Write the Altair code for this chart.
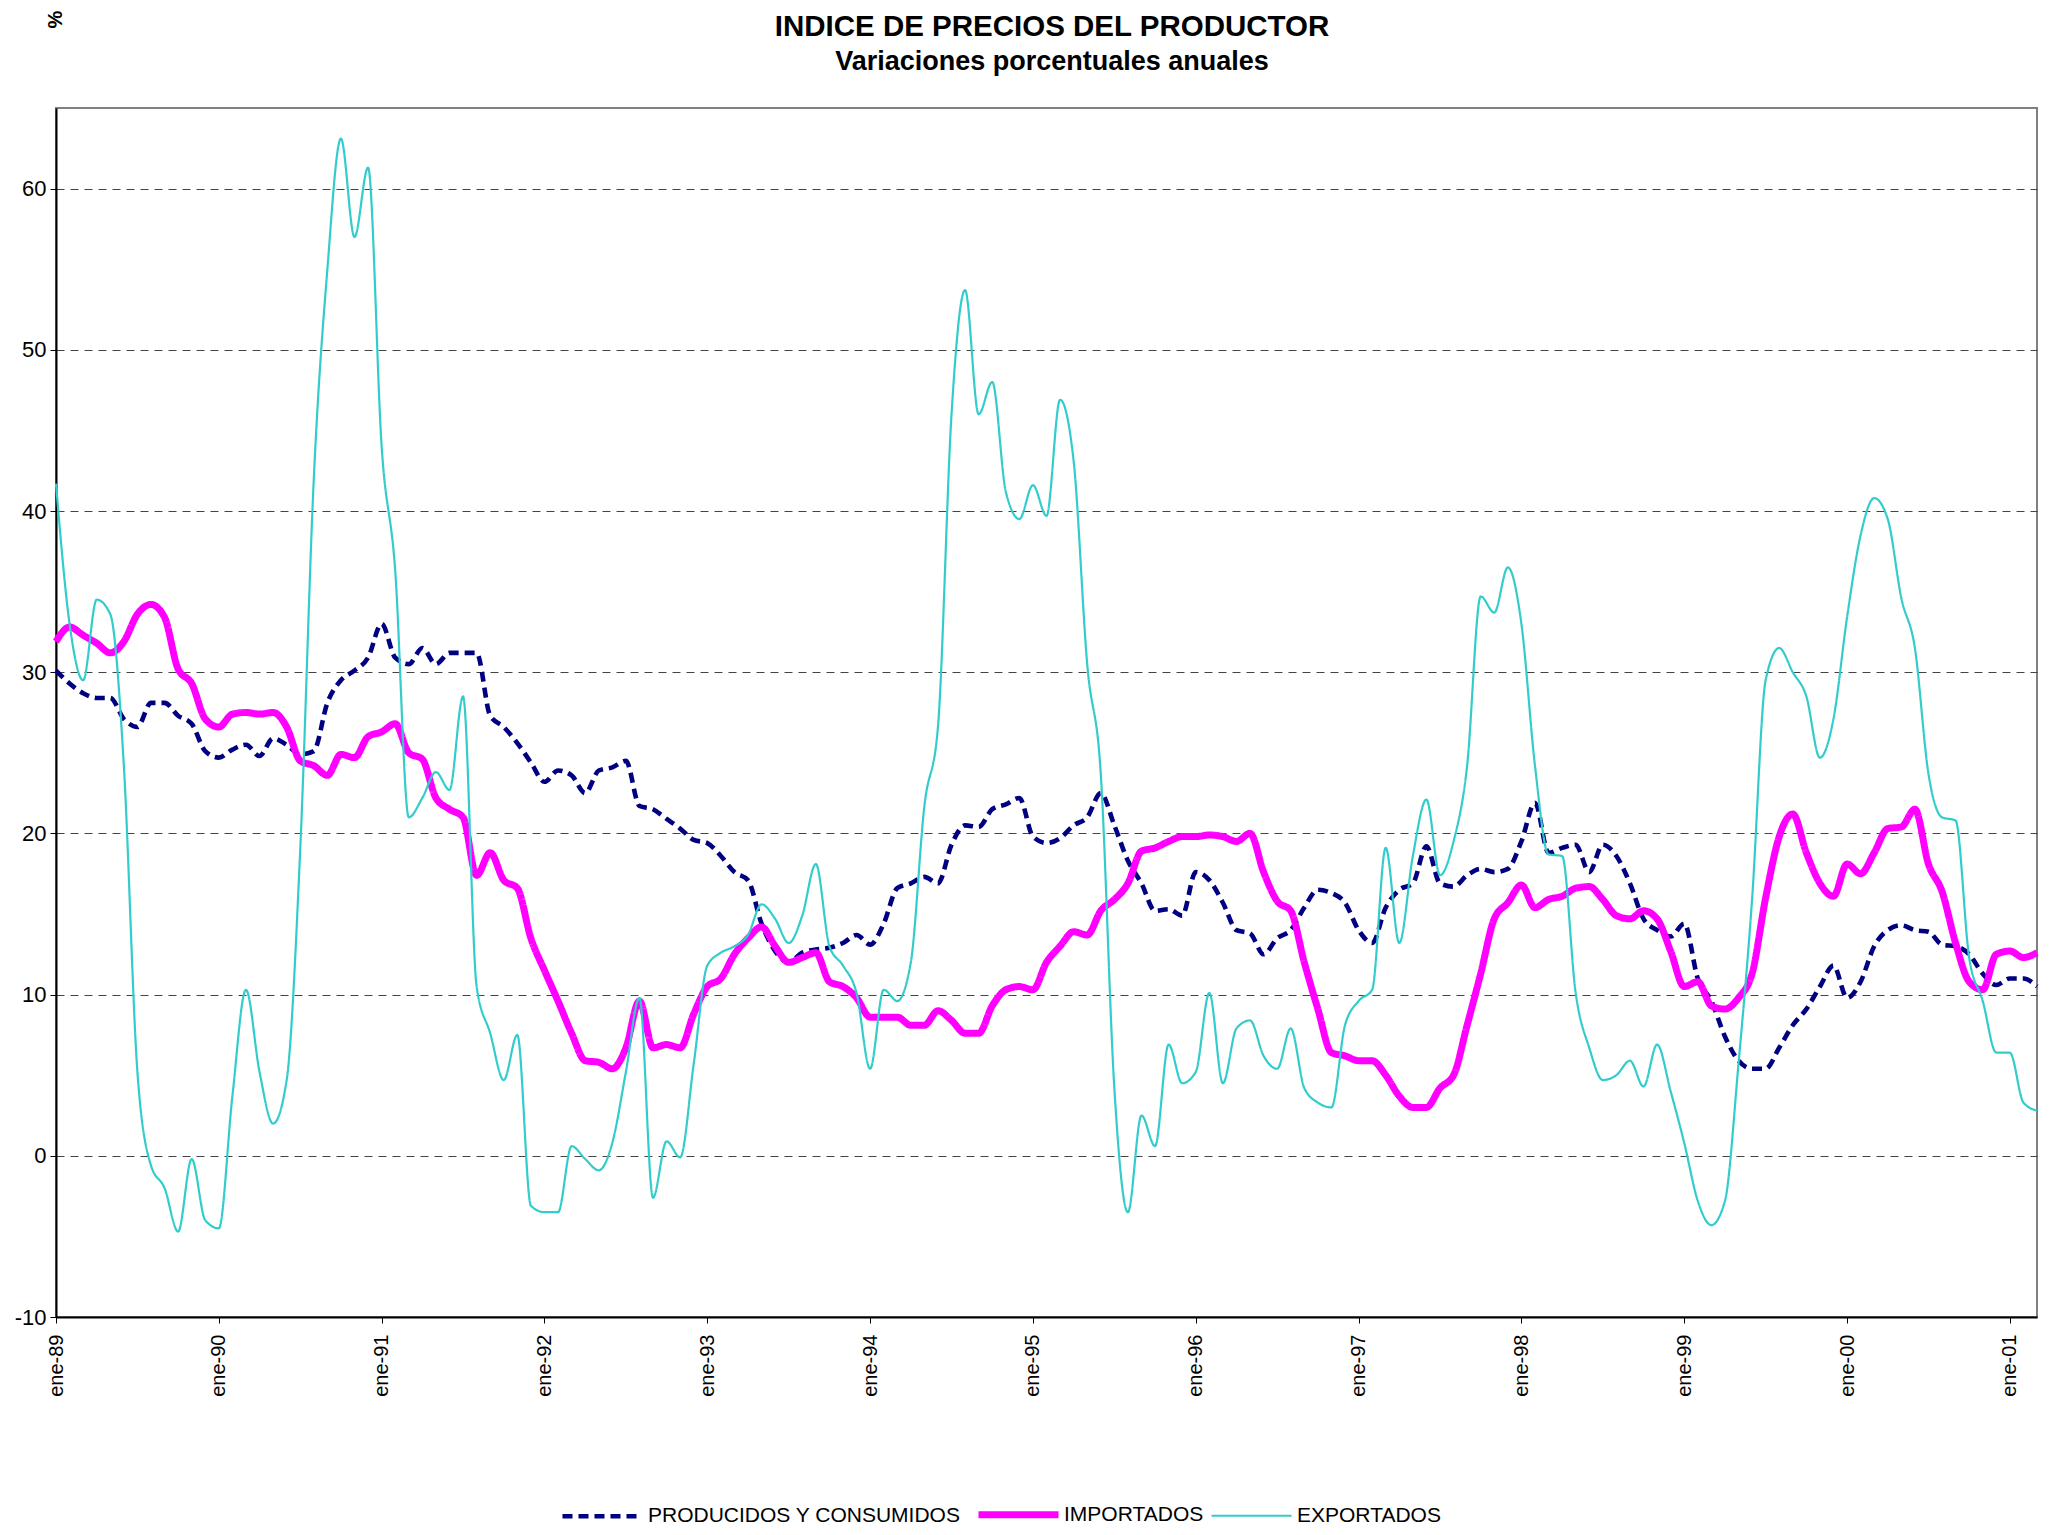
import json
import altair as alt
import pandas as pd

FONT = "Liberation Sans, Arial, sans-serif"

TITLE = "INDICE DE PRECIOS DEL PRODUCTOR"
SUBTITLE = "Variaciones porcentuales anuales"
Y_TITLE = "%"

XLABELS = ["ene-89", "ene-90", "ene-91", "ene-92", "ene-93", "ene-94", "ene-95",
           "ene-96", "ene-97", "ene-98", "ene-99", "ene-00", "ene-01"]
Y_TICKS = [-10, 0, 10, 20, 30, 40, 50, 60]

SERIES = ["PRODUCIDOS Y CONSUMIDOS", "IMPORTADOS", "EXPORTADOS"]

PRODUCIDOS = [
    30.1, 29.3, 28.7, 28.4, 28.4, 27.1, 26.6, 28.1, 28.1, 27.3, 26.8, 25.1,
    24.7, 25.2, 25.5, 24.8, 25.9, 25.5, 24.9, 25.1, 28.1, 29.5, 30.1, 30.9,
    33.0, 30.9, 30.5, 31.5, 30.5, 31.2, 31.2, 31.2, 27.3, 26.6, 25.6, 24.4,
    23.2, 23.9, 23.6, 22.5, 23.9, 24.1, 24.5, 21.7, 21.5, 20.9, 20.3, 19.6,
    19.4, 18.6, 17.6, 17.1, 14.4, 12.7, 12.0, 12.6, 12.8, 12.9, 13.2, 13.7,
    13.1, 14.4, 16.6, 16.9, 17.3, 16.9, 19.3, 20.5, 20.4, 21.5, 21.8, 22.2,
    19.8, 19.4, 19.7, 20.5, 21.0, 22.5, 20.5, 18.3, 16.9, 15.2, 15.3, 14.9,
    17.6, 17.1, 15.7, 14.0, 13.8, 12.5, 13.5, 14.0, 15.4, 16.5, 16.3, 15.7,
    14.0, 13.2, 15.4, 16.5, 16.9, 19.2, 16.9, 16.7, 17.4, 17.8, 17.6, 17.8,
    19.5, 21.9, 18.8, 19.1, 19.3, 17.6, 19.3, 18.6, 16.9, 14.7, 14.0, 13.6,
    14.4, 11.0, 9.6, 7.4, 5.9, 5.4, 5.4, 6.7, 8.1, 9.1, 10.5, 11.8,
    9.8, 10.8, 13.0, 14.0, 14.3, 14.0, 13.9, 13.1, 13.0, 12.5, 11.3, 10.6,
    11.0, 11.0, 10.5,
]

IMPORTADOS = [
    31.9, 32.8, 32.3, 31.8, 31.2, 31.9, 33.6, 34.2, 33.4, 30.2, 29.3, 27.1,
    26.6, 27.4, 27.5, 27.4, 27.5, 26.6, 24.5, 24.2, 23.6, 24.9, 24.7, 26.0,
    26.3, 26.8, 25.0, 24.6, 22.2, 21.5, 21.0, 17.4, 18.8, 17.1, 16.6, 13.5,
    11.5, 9.6, 7.6, 5.9, 5.8, 5.4, 6.7, 9.6, 6.7, 6.9, 6.7, 8.8,
    10.5, 11.0, 12.5, 13.5, 14.2, 13.0, 12.0, 12.3, 12.6, 10.8, 10.5, 9.8,
    8.6, 8.6, 8.6, 8.1, 8.1, 9.0, 8.4, 7.6, 7.6, 9.3, 10.3, 10.5,
    10.3, 12.0, 13.0, 13.9, 13.7, 15.2, 15.9, 16.9, 18.9, 19.1, 19.5, 19.8,
    19.8, 19.9, 19.8, 19.5, 20.0, 17.6, 15.8, 15.2, 12.0, 9.1, 6.4, 6.2,
    5.9, 5.9, 5.0, 3.7, 3.0, 3.0, 4.2, 5.0, 8.1, 11.3, 14.7, 15.7,
    16.8, 15.4, 15.9, 16.1, 16.6, 16.7, 15.9, 14.9, 14.7, 15.2, 14.7, 12.7,
    10.5, 10.8, 9.3, 9.1, 9.8, 11.3, 16.0, 19.8, 21.2, 18.8, 16.9, 16.1,
    18.1, 17.5, 18.8, 20.3, 20.4, 21.5, 18.1, 16.4, 13.2, 10.8, 10.3, 12.5,
    12.7, 12.3, 12.6,
]

EXPORTADOS = [
    41.7, 33.0, 29.5, 34.5, 33.6, 24.2, 5.2, -0.6, -2.0, -4.7, -0.2, -4.0,
    -4.5, 3.7, 10.3, 5.2, 2.0, 4.7, 19.0, 42.0, 55.0, 63.1, 57.0, 61.3,
    44.0, 36.3, 21.0, 22.2, 23.8, 22.7, 28.5, 10.5, 7.6, 4.7, 7.5, -3.1,
    -3.5, -3.5, 0.6, -0.2, -0.9, 0.8, 5.2, 9.8, -2.6, 0.9, -0.1, 5.7,
    11.8, 12.6, 13.0, 13.7, 15.6, 14.7, 13.2, 14.9, 18.1, 13.0, 11.8, 10.1,
    5.4, 10.3, 9.6, 12.0, 21.7, 26.6, 46.0, 53.7, 46.0, 48.0, 41.2, 39.5,
    41.6, 39.7, 46.9, 43.1, 30.5, 23.7, 4.2, -3.5, 2.5, 0.6, 6.9, 4.5,
    5.2, 10.1, 4.5, 7.9, 8.4, 6.2, 5.4, 7.9, 4.2, 3.3, 3.0, 8.1,
    9.6, 10.3, 19.1, 13.2, 18.6, 22.1, 17.4, 19.5, 24.2, 34.7, 33.7, 36.5,
    33.0, 24.2, 18.7, 18.6, 10.1, 6.7, 4.7, 5.0, 5.9, 4.3, 6.9, 4.0,
    0.8, -2.8, -4.3, -2.8, 5.7, 15.9, 29.5, 31.5, 30.0, 28.5, 24.7, 27.1,
    33.4, 38.5, 40.8, 39.5, 34.6, 31.5, 23.7, 21.0, 20.8, 12.3, 9.6, 6.4,
    6.4, 3.3, 2.8,
]

MONTHS = list(range(len(PRODUCIDOS)))

rows = []
for name, vals in zip(SERIES, [PRODUCIDOS, IMPORTADOS, EXPORTADOS]):
    for m, v in zip(MONTHS, vals):
        rows.append({"mes": m, "valor": v, "serie": name})
df = pd.DataFrame(rows)

# scale order chosen so stroke widths rise monotonically (thin cyan -> thick magenta)
ORDER = ["EXPORTADOS", "PRODUCIDOS Y CONSUMIDOS", "IMPORTADOS"]
COLORS = ["#33CCCC", "#000080", "#FF00FF"]
DASHES = [[1, 0], [10, 6], [1, 0]]

legend = alt.Legend(
    title=None, orient="none", legendX=503, legendY=1363, direction="horizontal",
    columns=3, symbolType="stroke", symbolSize=6400, labelFontSize=21,
    labelFont=FONT, labelColor="black", labelOffset=2, columnPadding=3,
    padding=0, values=SERIES, labelLimit=0,
)

label_expr = json.dumps(XLABELS) + "[round(datum.value / 12)]"

lines = alt.Chart(df).mark_line(interpolate="monotone").encode(
    x=alt.X("mes:Q", scale=alt.Scale(domain=[0, len(MONTHS) - 1], nice=False, zero=False),
            axis=alt.Axis(values=list(range(0, 12 * len(XLABELS), 12)), labelExpr=label_expr,
                          labelAngle=270, labelAlign="right", labelBaseline="middle",
                          labelFlush=False, labelOverlap=False, title=None, grid=False,
                          labelFontSize=20, labelFont=FONT, labelColor="black",
                          labelPadding=11, tickSize=6, tickColor="black",
                          domainColor="black", domainWidth=2)),
    y=alt.Y("valor:Q", scale=alt.Scale(domain=[-10, 65], nice=False, zero=False),
            axis=alt.Axis(values=Y_TICKS, labelExpr="'' + datum.value",
                          title=Y_TITLE, titleAngle=270, titleX=-1, titleY=-89,
                          titleAlign="center", titleBaseline="middle", titleFontSize=20,
                          titleFontWeight="bold", titleFont=FONT, titleColor="black",
                          labelFontSize=22, labelFont=FONT, labelColor="black",
                          labelPadding=4, tickSize=6, tickColor="black",
                          domainColor="black", domainWidth=2, labelFlush=False,
                          grid=True, gridDash=[8, 6], gridColor="#444444", gridWidth=1)),
    color=alt.Color("serie:N", scale=alt.Scale(domain=ORDER, range=COLORS), legend=legend),
    strokeDash=alt.StrokeDash("serie:N", scale=alt.Scale(domain=ORDER, range=DASHES), legend=legend),
    strokeWidth=alt.StrokeWidth("serie:N", scale=alt.Scale(type="point", domain=ORDER, range=[2.2, 7], padding=0),
                                legend=legend),
)

title_mark = alt.Chart(alt.Data(values=[{"t": TITLE}])).mark_text(
    fontSize=29.5, fontWeight="bold", font=FONT, align="center", baseline="middle", color="black"
).encode(x=alt.value(996), y=alt.value(-81.5), text="t:N")

subtitle_mark = alt.Chart(alt.Data(values=[{"t": SUBTITLE}])).mark_text(
    fontSize=27, fontWeight="bold", font=FONT, align="center", baseline="middle", color="black"
).encode(x=alt.value(996), y=alt.value(-46.5), text="t:N")

chart = alt.layer(lines, title_mark, subtitle_mark).properties(
    width=1981, height=1209,
    autosize=alt.AutoSizeParams(type="none"),
    padding={"left": 48, "top": 100, "right": 4, "bottom": 208},
    background="white",
).configure_view(stroke="#808080", strokeWidth=2)

chart.save("out.html", embed_options={"renderer": "svg", "actions": False})
